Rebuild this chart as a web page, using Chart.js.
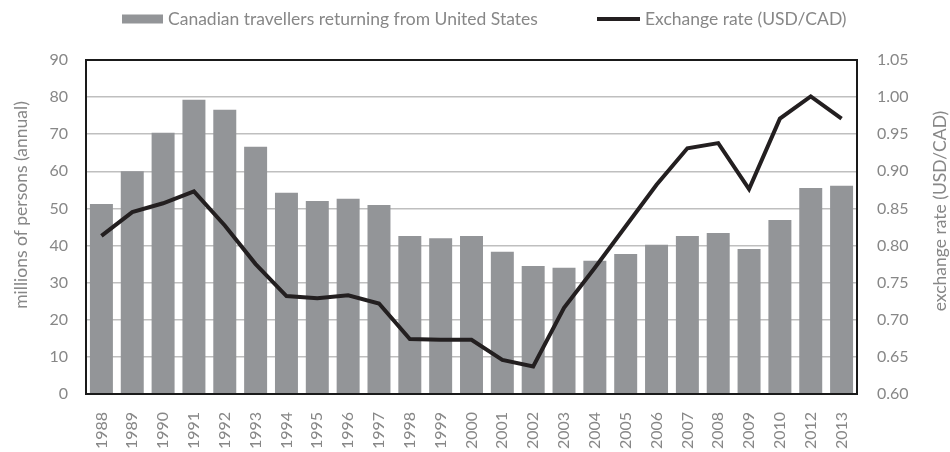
<!DOCTYPE html>
<html>
<head>
<meta charset="utf-8">
<script src="https://cdn.jsdelivr.net/npm/chart.js@4.4.1/dist/chart.umd.min.js"></script>
<style>
  html, body { margin: 0; padding: 0; background: #ffffff; }
  #wrap { width: 950px; height: 452px; position: relative; }
</style>
</head>
<body>
<div id="wrap"><canvas id="c" width="950" height="452"></canvas></div>
<script>
const years = ['1988','1989','1990','1991','1992','1993','1994','1995','1996','1997','1998','1999','2000','2001','2002','2003','2004','2005','2006','2007','2008','2009','2010','2012','2013'];
const travellers = [51.2, 60.0, 70.4, 79.3, 76.6, 66.6, 54.2, 52.0, 52.6, 50.9, 42.6, 42.0, 42.6, 38.3, 34.5, 34.0, 35.9, 37.7, 40.2, 42.6, 43.4, 39.1, 46.9, 55.5, 56.1];
const exchangeRate = [0.813, 0.845, 0.857, 0.873, 0.827, 0.775, 0.732, 0.729, 0.733, 0.722, 0.674, 0.673, 0.673, 0.646, 0.637, 0.716, 0.770, 0.826, 0.882, 0.931, 0.938, 0.876, 0.971, 1.001, 0.971];
const seriesLabels = ['Canadian travellers returning from United States', 'Exchange rate (USD/CAD)'];
const axisTitles = ['millions of persons (annual)', 'exchange rate (USD/CAD)'];

const FONT = 'Lato';
const GRAY_TEXT = '#878787';
const BAR_COLOR = '#939598';
const LINE_COLOR = '#231f20';

const decor = {
  id: 'decor',
  afterDatasetsDraw(chart) {
    const ctx = chart.ctx, a = chart.chartArea;
    ctx.save();
    ctx.strokeStyle = '#1a1a1a';
    ctx.lineWidth = 2;
    ctx.strokeRect(a.left, a.top, a.right - a.left, a.bottom - a.top);
    ctx.restore();
  },
  afterDraw(chart) {
    const ctx = chart.ctx;
    ctx.save();
    ctx.fillStyle = GRAY_TEXT;
    ctx.font = '17.5px ' + FONT;
    ctx.textAlign = 'center';
    ctx.textBaseline = 'middle';
    // axis titles (both read bottom to top)
    ctx.save(); ctx.translate(21.5, 205); ctx.rotate(-Math.PI / 2); ctx.fillText(axisTitles[0], 0, 0); ctx.restore();
    ctx.save(); ctx.translate(940.5, 211); ctx.rotate(-Math.PI / 2); ctx.fillText(axisTitles[1], 0, 0); ctx.restore();
    // legend
    const ds = chart.data.datasets;
    ctx.textAlign = 'left';
    ctx.fillStyle = ds[0].backgroundColor;
    ctx.fillRect(122, 14.5, 41, 9);
    ctx.fillStyle = GRAY_TEXT;
    ctx.fillText(ds[0].label, 168, 19);
    ctx.strokeStyle = ds[1].borderColor;
    ctx.lineWidth = ds[1].borderWidth;
    ctx.beginPath(); ctx.moveTo(597, 19); ctx.lineTo(640, 19); ctx.stroke();
    ctx.fillText(ds[1].label, 645, 19);
    ctx.restore();
  }
};

const tickFont = { family: FONT, size: 16 };

new Chart(document.getElementById('c'), {
  data: {
    labels: years,
    datasets: [
      {
        type: 'bar',
        label: seriesLabels[0],
        data: travellers,
        backgroundColor: BAR_COLOR,
        borderWidth: 0,
        yAxisID: 'y',
        categoryPercentage: 1.0,
        barPercentage: 0.745,
        order: 1
      },
      {
        type: 'line',
        label: seriesLabels[1],
        data: exchangeRate,
        borderColor: LINE_COLOR,
        backgroundColor: LINE_COLOR,
        borderWidth: 4,
        pointRadius: 0,
        tension: 0,
        yAxisID: 'y1',
        order: 0
      }
    ]
  },
  options: {
    responsive: false,
    animation: false,
    devicePixelRatio: 1,
    layout: { padding: { top: 60, left: 0, right: 0, bottom: 0 } },
    plugins: {
      legend: { display: false },
      tooltip: { enabled: false }
    },
    scales: {
      x: {
        offset: true,
        grid: { display: false, drawTicks: false },
        border: { display: false },
        ticks: { minRotation: 90, maxRotation: 90, autoSkip: false, padding: 18, font: tickFont, color: GRAY_TEXT },
        afterFit: s => { s.height = 58; }
      },
      y: {
        position: 'left',
        min: 0, max: 90,
        ticks: { stepSize: 10, padding: 18, font: tickFont, color: GRAY_TEXT },
        grid: { color: '#bfbfbf', lineWidth: 1.5, drawTicks: false },
        border: { display: false },
        afterFit: s => { s.width = 86; }
      },
      y1: {
        position: 'right',
        min: 0.6, max: 1.05,
        ticks: { stepSize: 0.05, padding: 20, font: tickFont, color: GRAY_TEXT, callback: v => Number(v).toFixed(2) },
        grid: { display: false, drawTicks: false },
        border: { display: false },
        afterFit: s => { s.width = 93; }
      }
    }
  },
  plugins: [decor]
});
</script>
</body>
</html>
